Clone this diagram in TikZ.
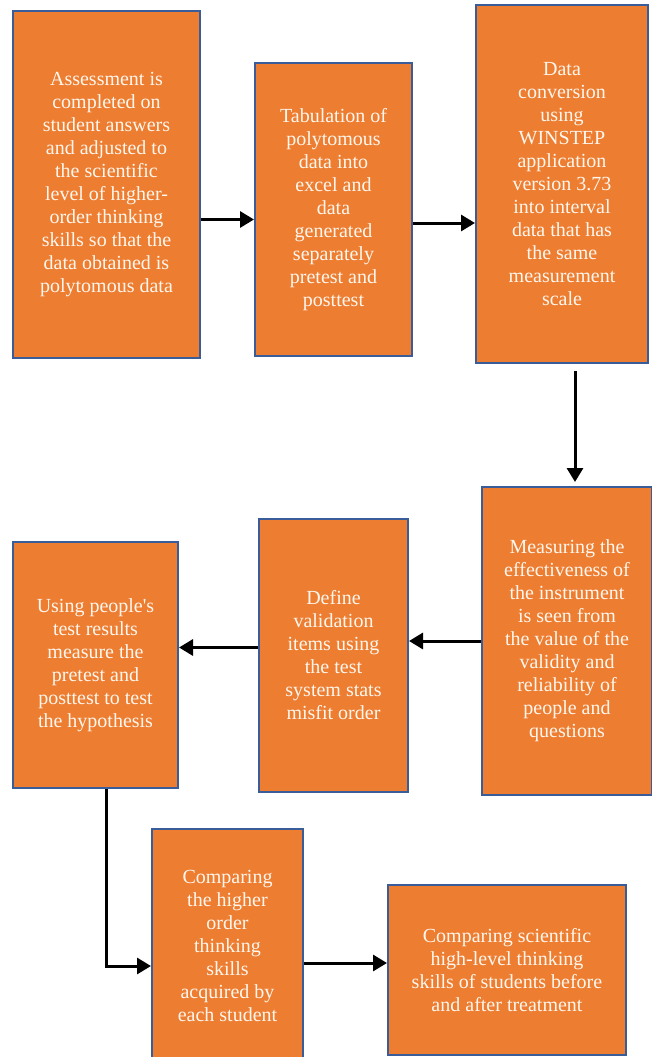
\documentclass[tikz,border=0pt]{standalone}
\usepackage{fontspec}
\setmainfont{Liberation Serif}
\usepackage{tikz}
\usetikzlibrary{arrows.meta, positioning, calc}
\definecolor{boxfill}{HTML}{ED7D31}
\definecolor{boxline}{HTML}{3A5C99}
\definecolor{boxtext}{HTML}{FFF7EE}

\begin{document}
\begin{tikzpicture}[x=1pt, y=-1pt,
    box/.style={rectangle, draw=boxline, fill=boxfill, line width=2pt, inner sep=0pt, align=center,
        text=boxtext, font=\fontsize{20}{23}\selectfont},
    arrow/.style={-{Triangle[length=14pt, width=16pt]}, line width=3pt, black},
]
\useasboundingbox (0,0) rectangle (652,1057);

% Top row
\node[box, minimum width=187pt, minimum height=347pt] (assess) at (106.5,184.5) {Assessment is\\completed on\\student answers\\and adjusted to\\the scientific\\level of higher-\\order thinking\\skills so that the\\data obtained is\\polytomous data};
\node[box, minimum width=157pt, minimum height=293pt] (tabul) at (333.5,209.5) {Tabulation of\\polytomous\\data into\\excel and\\data\\generated\\separately\\pretest and\\posttest};
\node[box, minimum width=172pt, minimum height=358pt] (convert) at (562,184) {Data\\conversion\\using\\WINSTEP\\application\\version 3.73\\into interval\\data that has\\the same\\measurement\\scale};
\draw[arrow] ([yshift=-10pt]tabul.west -| assess.east) -- ([yshift=-10pt]tabul.west);
\draw[arrow] ([yshift=-13.5pt]tabul.east) -- ([yshift=-13.5pt]tabul.east -| convert.west);

% Middle row
\node[box, minimum width=170pt, minimum height=308pt] (measure) at (567,641) {Measuring the\\effectiveness of\\the instrument\\is seen from\\the value of the\\validity and\\reliability of\\people and\\questions};
\node[box, minimum width=149pt, minimum height=273pt] (define) at (333.5,655.5) {Define\\validation\\items using\\the test\\system stats\\misfit order};
\node[box, minimum width=165pt, minimum height=246pt] (using) at (95.5,665) {Using people\textquotesingle s\\test results\\measure the\\pretest and\\posttest to test\\the hypothesis};
\draw[arrow] ([xshift=13pt, yshift=-7pt]convert.south) -- ([xshift=13pt, yshift=4pt]convert.south |- measure.north);
\draw[arrow] (measure.west) -- (measure.west -| define.east);
\draw[arrow] ([yshift=8pt]define.west) -- ([yshift=8pt]define.west -| using.east);

% Bottom row
\node[box, minimum width=151pt, minimum height=233pt] (compare) at (227.5,945.5) {Comparing\\the higher\\order\\thinking\\skills\\acquired by\\each student};
\node[box, minimum width=238pt, minimum height=170pt] (result) at (507,970) {Comparing scientific\\high-level thinking\\skills of students before\\and after treatment};
\draw[arrow] ([xshift=10.5pt]using.south) |- ([yshift=-20.5pt]compare.west);
\draw[arrow] ([yshift=-17.5pt]compare.east) -- ([yshift=-17.5pt]compare.east -| result.west);
\end{tikzpicture}
\end{document}
